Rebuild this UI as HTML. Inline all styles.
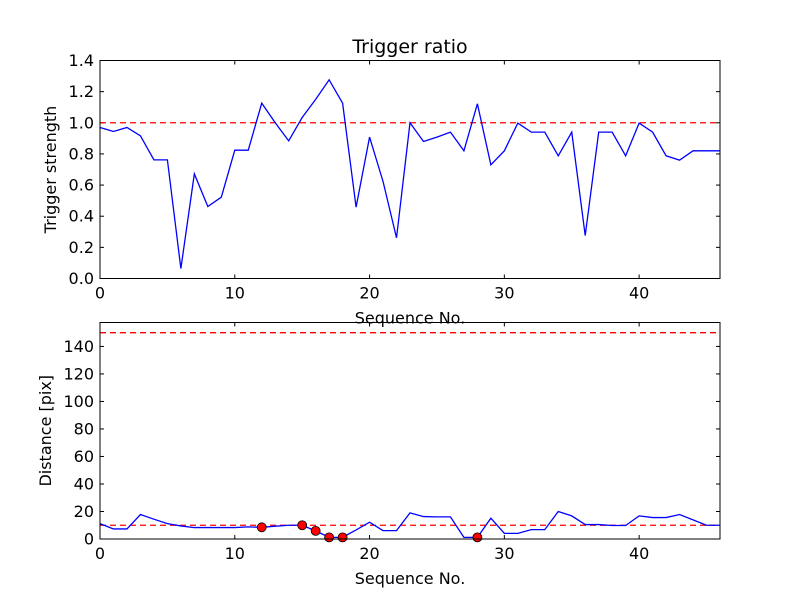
<!DOCTYPE html>
<html><head><meta charset="utf-8"><style>
body{margin:0;background:#fff;}
svg{display:block;font-family:"DejaVu Sans","Liberation Sans",sans-serif;}
</style></head><body>
<svg id="chart" width="800" height="600" xmlns="http://www.w3.org/2000/svg"></svg>
<script>
const seqTop = [0.97,0.944,0.97,0.916,0.762,0.762,0.064,0.672,0.462,0.522,0.824,0.824,1.126,1.0,0.884,1.034,1.15,1.276,1.126,0.458,0.908,0.623,0.261,1.0,0.88,0.908,0.94,0.82,1.122,0.73,0.82,0.998,0.94,0.94,0.788,0.94,0.276,0.94,0.94,0.788,0.998,0.94,0.788,0.76,0.82,0.82,0.82];
const distance = [11.2,7.3,7.3,17.8,14.4,11.2,9.5,8.3,8.3,8.3,8.3,8.8,8.5,9.3,10,10,5.9,1.2,1.2,6.6,12.2,6.1,6.1,19,16.3,16.1,16.1,1.2,1.2,15.1,4.1,4.1,6.8,6.8,20,16.8,10.5,10.5,9.8,9.8,16.8,15.6,15.6,17.8,13.9,10,10];
const markedIdx = [12,15,16,17,18,28];
const topThreshold = 1.0;
const bottomThresholds = [10,150];
const xTicks = [0,10,20,30,40];
const topYTicks = [0,0.2,0.4,0.6,0.8,1.0,1.2,1.4];
const botYTicks = [0,20,40,60,80,100,120,140];

const NS="http://www.w3.org/2000/svg";
const svg=document.getElementById('chart');
function mk(tag,attrs,parent,name){const e=document.createElementNS(NS,tag);for(const k in attrs)e.setAttribute(k,attrs[k]);


(parent||svg).appendChild(e);return e;}
const L=100,R=720,XMAX=46;
const xs=v=>L+(R-L)*v/XMAX;
function axes(top,bot,ymax,yticks,fmt,ylabel,prefix,ylx){
  const ys=v=>bot-(bot-top)*v/ymax;
  const g=mk('g',{},svg,prefix+'-axes');
  xTicks.forEach(t=>{const x=xs(t);
    mk('line',{x1:x,y1:bot,x2:x,y2:bot-4,stroke:'#000'},g,prefix+'-x-tick');
    mk('line',{x1:x,y1:top,x2:x,y2:top+4,stroke:'#000'},g,prefix+'-x-tick-top');
    const tx=mk('text',{x:x,y:bot+20,'font-size':'16','text-anchor':'middle'},g,prefix+'-x-tick-label');tx.textContent=t;});
  yticks.forEach(t=>{const y=ys(t);
    mk('line',{x1:L,y1:y,x2:L+4,y2:y,stroke:'#000'},g,prefix+'-y-tick');
    mk('line',{x1:R,y1:y,x2:R-4,y2:y,stroke:'#000'},g,prefix+'-y-tick-right');
    const tx=mk('text',{x:L-6,y:y+5.5,'font-size':'16','text-anchor':'end'},g,prefix+'-y-tick-label');tx.textContent=fmt(t);});
  const xl=mk('text',{x:(L+R)/2,y:bot+45,'font-size':'16','text-anchor':'middle'},g,prefix+'-x-axis-title');xl.textContent='Sequence No.';
  const cy=(top+bot)/2;
  const yl=mk('text',{x:0,y:0,'font-size':'16','text-anchor':'middle',transform:`translate(${ylx},${cy}) rotate(-90)`},g,prefix+'-y-axis-title');yl.textContent=ylabel;
  return ys;
}
const T1=60.5,B1=278.5;
const ys1=axes(T1,B1,1.4,topYTicks,v=>v.toFixed(1),'Trigger strength','top',56);
mk('line',{x1:L,x2:R,y1:ys1(topThreshold),y2:ys1(topThreshold),stroke:'#f00','stroke-width':1.3,'stroke-dasharray':'6,4'},svg,'top-threshold-line');
mk('polyline',{points:seqTop.map((v,i)=>xs(i)+','+ys1(v)).join(' '),fill:'none',stroke:'#00f','stroke-width':1.3},svg,'trigger-strength-line');
mk('rect',{x:L,y:T1,width:R-L,height:B1-T1,fill:'none',stroke:'#000'},svg,'top-plot-frame');
const title=mk('text',{x:410,y:53,'font-size':'19','text-anchor':'middle'},svg,'chart-title');title.textContent='Trigger ratio';
const T2=322.5,B2=539;
const ys2=axes(T2,B2,157.4,botYTicks,v=>v,'Distance [pix]','bottom',51);
bottomThresholds.forEach(t=>mk('line',{x1:L,x2:R,y1:ys2(t),y2:ys2(t),stroke:'#f00','stroke-width':1.3,'stroke-dasharray':'6,4'},svg,'bottom-threshold-line'));
mk('polyline',{points:distance.map((v,i)=>xs(i)+','+ys2(v)).join(' '),fill:'none',stroke:'#00f','stroke-width':1.3},svg,'distance-line');
markedIdx.forEach(i=>mk('circle',{cx:xs(i),cy:ys2(distance[i]),r:4.5,fill:'#f00',stroke:'#000','stroke-width':0.8},svg,'marked-point'));
mk('rect',{x:L,y:T2,width:R-L,height:B2-T2,fill:'none',stroke:'#000'},svg,'bottom-plot-frame');
</script>
</body></html>
